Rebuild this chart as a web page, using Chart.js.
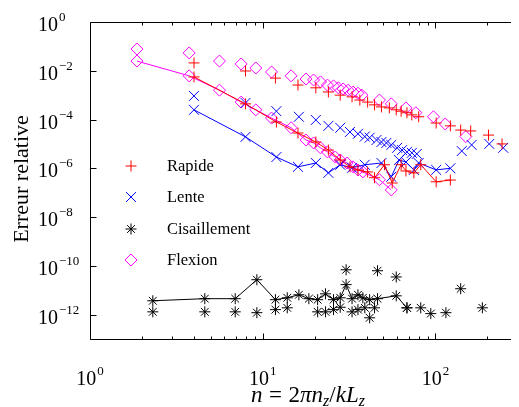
<!DOCTYPE html>
<html>
<head>
<meta charset="utf-8">
<script src="https://cdn.jsdelivr.net/npm/chart.js@4.4.1/dist/chart.umd.min.js"></script>
<style>
  html, body { margin: 0; padding: 0; background: #fff; }
  canvas { display: block; }
</style>
</head>
<body>
<canvas id="chart" width="519" height="407"></canvas>
<script>
// Rapide (red +): upper set markers only, lower set joined by a line
const rapideX1 = [4.0, 7.95, 11.85, 16.0, 20.3, 24.0, 28.1, 32.9, 36.5, 40.5, 44.4, 48.7, 54.1, 59.3, 63.3, 68.4, 73.0, 80.0, 101, 122, 140, 160, 203, 243];
const rapideY1 = [2.1e-2, 9.8e-3, 5.0e-3, 2.6e-3, 2.0e-3, 1.35e-3, 1.0e-3, 8.5e-4, 6.3e-4, 5.2e-4, 4.0e-4, 3.3e-4, 3.0e-4, 2.5e-4, 2.2e-4, 1.9e-4, 1.55e-4, 1.3e-4, 7.2e-5, 5.5e-5, 3.7e-5, 3.4e-5, 2.3e-5, 1.0e-5];
const rapideX2 = [4.0, 7.95, 12.0, 16.0, 20.3, 24.0, 28.1, 32.0, 35.6, 40.5, 44.4, 50.7, 56.2, 63.3, 67.5, 75.0, 82.2, 101, 122];
const rapideY2 = [5.6e-3, 4.4e-4, 7.9e-5, 2.8e-5, 1.2e-5, 5.6e-6, 2.2e-6, 1.15e-6, 8.5e-7, 7.1e-7, 4.1e-7, 1.4e-6, 2.5e-7, 1.4e-6, 7.8e-7, 6.5e-7, 1.4e-6, 2.8e-7, 3.3e-7];

// Lente (blue x)
const lenteX1 = [4.0, 7.95, 12.0, 16.2, 20.3, 24.0, 28.1, 32.0, 35.6, 39.0, 41.6, 45.6, 48.7, 52.0, 55.5, 60.0, 64.1, 68.4, 73.0, 78.0, 142, 162, 205, 247];
const lenteY1 = [9.3e-4, 4.8e-4, 2.2e-4, 1.3e-4, 9.6e-5, 5.5e-5, 4.6e-5, 3.1e-5, 2.6e-5, 2.0e-5, 1.8e-5, 1.45e-5, 1.2e-5, 1.1e-5, 9.1e-6, 6.9e-6, 5.6e-6, 4.7e-6, 4.3e-6, 3.9e-6, 5.1e-6, 9.1e-6, 1.0e-5, 6.9e-6];
const lenteX2 = [4.0, 7.95, 12.0, 16.0, 20.3, 24.0, 28.1, 32.9, 39.0, 48.7, 55.5, 61.6, 67.5, 75.0, 80.0, 101, 122];
const lenteY2 = [2.5e-4, 1.95e-5, 2.9e-6, 1.15e-6, 1.65e-6, 6.5e-7, 1.4e-6, 1.05e-6, 1.4e-6, 1.65e-6, 4.5e-7, 2.2e-6, 1.8e-6, 8.6e-7, 1.65e-6, 8.6e-7, 1.0e-6];

// Cisaillement (black *)
const cisailX1 = [2.31, 4.62, 6.93, 9.25, 11.85, 13.87, 16.2, 18.5, 20.8, 23.1, 25.7, 28.1, 30.4, 32.9, 35.6, 38.0, 41.6, 46.2, 59.3, 68.4];
const cisailY1 = [3.7e-12, 4.5e-12, 4.5e-12, 2.7e-11, 4.1e-12, 4.9e-12, 6.5e-12, 4.5e-12, 4.1e-12, 7.1e-12, 4.1e-12, 4.9e-12, 1.7e-11, 4.5e-12, 6.5e-12, 4.9e-12, 4.1e-12, 4.5e-12, 5.9e-12, 1.9e-12];
const cisailX2 = [2.31, 4.62, 6.93, 9.25, 11.85, 13.87, 20.8, 23.1, 25.7, 28.1, 30.4, 32.9, 35.6, 39.0, 41.6, 44.4, 46.2, 59.3, 68.4, 82.2, 94, 115, 140, 187];
const cisailY2 = [1.3e-12, 1.3e-12, 1.3e-12, 1.2e-12, 1.6e-12, 1.9e-12, 1.3e-12, 1.3e-12, 1.6e-12, 2.0e-12, 6.9e-11, 1.3e-12, 1.6e-12, 1.9e-12, 7.4e-13, 1.9e-12, 6.3e-11, 3.5e-11, 1.9e-12, 1.9e-12, 1.1e-12, 1.2e-12, 1.15e-11, 1.9e-12];

// Flexion (magenta diamonds)
const flexionX1 = [1.87, 3.75, 5.62, 7.5, 9.12, 11.25, 14.6, 17.8, 19.7, 21.6, 23.7, 25.7, 27.4, 29.2, 31.2, 33.3, 35.6, 37.5, 47.4, 55.5, 67.5, 77.0, 97.4, 114, 150];
const flexionY1 = [7.8e-2, 5.4e-2, 2.5e-2, 1.9e-2, 1.3e-2, 8.9e-3, 6.2e-3, 4.6e-3, 4.2e-3, 3.5e-3, 2.6e-3, 2.4e-3, 2.0e-3, 1.8e-3, 1.6e-3, 1.35e-3, 1.2e-3, 1.0e-3, 6.3e-4, 4.4e-4, 3.0e-4, 1.9e-4, 1.3e-4, 6.6e-5, 2.0e-5];
const flexionX2 = [1.87, 3.75, 5.62, 7.5, 9.12, 11.25, 14.6, 17.8, 19.7, 21.6, 23.7, 26.3, 28.1, 30.8, 33.3, 35.6, 38.0, 47.4, 55.5];
const flexionY2 = [2.5e-2, 6.2e-3, 1.6e-3, 5.2e-4, 2.5e-4, 1.15e-4, 4.6e-5, 1.45e-5, 1.1e-5, 6.9e-6, 4.7e-6, 2.9e-6, 2.2e-6, 1.65e-6, 1.15e-6, 8.5e-7, 7.1e-7, 3.4e-7, 1.3e-7];

const legendLabels = ['Rapide', 'Lente', 'Cisaillement', 'Flexion'];
const xTickExps = [0, 1, 2];
const yTickExps = [0, -2, -4, -6, -8, -10, -12];

const SERIF = '"Liberation Serif", "Times New Roman", serif';
const NONE = 'rgba(0,0,0,0)';

const styles = [
    { color: '#ff0000', pointStyle: 'cross',    radius: 5.5 },
    { color: '#0000ff', pointStyle: 'crossRot', radius: 7 },
    { color: '#000000', pointStyle: 'star',     radius: 5.5 },
    { color: '#ff00ff', pointStyle: 'rectRot',  radius: 6 },
];

function pts(xs, ys) {
    return xs.map((x, i) => ({ x: x, y: ys[i] }));
}

function makeSet(xs, ys, s, line, order) {
    return {
        data: pts(xs, ys),
        showLine: line,
        borderColor: s.color,
        backgroundColor: NONE,
        borderWidth: 1,
        pointStyle: s.pointStyle,
        pointRadius: s.radius,
        pointHoverRadius: s.radius,
        pointBorderColor: s.color,
        pointBackgroundColor: NONE,
        pointBorderWidth: 1,
        order: order,
    };
}

// superscript powers of ten, drawn by hand
function drawPow(ctx, x, base, exp, align) {
    const expStr = exp < 0 ? '\u2212' + (-exp) : String(exp);
    ctx.font = '20px ' + SERIF;
    const w1 = ctx.measureText('10').width;
    ctx.font = '13px ' + SERIF;
    const w2 = ctx.measureText(expStr).width;
    let left = x;
    if (align === 'center') left = x - (w1 + w2 + 1) / 2;
    ctx.textAlign = 'left';
    ctx.textBaseline = 'alphabetic';
    ctx.font = '20px ' + SERIF;
    ctx.fillText('10', left, base);
    ctx.font = '13px ' + SERIF;
    ctx.fillText(expStr, left + w1 + 1, base - 10);
}

const decor = {
    id: 'decor',
    afterDraw(chart) {
        const ctx = chart.ctx;
        const a = chart.chartArea;
        const xs = chart.scales.x, ys = chart.scales.y;
        ctx.save();
        ctx.strokeStyle = '#000';
        ctx.fillStyle = '#000';
        ctx.lineWidth = 1;

        const L = Math.round(a.left) + 0.5, T = Math.round(a.top) + 0.5, B = Math.round(a.bottom) + 0.5;
        ctx.beginPath();
        ctx.moveTo(a.right, T); ctx.lineTo(L, T); ctx.lineTo(L, B); ctx.lineTo(a.right, B);
        ctx.stroke();

        // x ticks, top and bottom, inward
        ctx.beginPath();
        for (let e = 0; e <= 2; e++) {
            for (let m = 1; m <= 9; m++) {
                const v = m * Math.pow(10, e);
                if (v > xs.max) break;
                const px = Math.round(xs.getPixelForValue(v)) + 0.5;
                const len = m === 1 ? 6 : 3;
                ctx.moveTo(px, B); ctx.lineTo(px, B - len);
                ctx.moveTo(px, T); ctx.lineTo(px, T + len);
            }
        }
        // y ticks, left, inward
        yTickExps.forEach(e => {
            const py = Math.round(ys.getPixelForValue(Math.pow(10, e))) + 0.5;
            ctx.moveTo(L, py); ctx.lineTo(L + 6, py);
        });
        ctx.stroke();

        // tick labels
        yTickExps.forEach(e => {
            const py = ys.getPixelForValue(Math.pow(10, e));
            drawPow(ctx, 38, py + 9, e, 'left');
        });
        xTickExps.forEach(e => {
            const px = xs.getPixelForValue(Math.pow(10, e));
            drawPow(ctx, px, 385, e, 'center');
        });

        // y title
        ctx.save();
        ctx.translate(28, 179);
        ctx.rotate(-Math.PI / 2);
        ctx.font = '22px ' + SERIF;
        ctx.textAlign = 'center';
        ctx.textBaseline = 'alphabetic';
        ctx.fillText('Erreur relative', 0, 0);
        ctx.restore();

        // x title: n = 2πn_z/kL_z
        const parts = [
            { t: 'n', f: 'italic 23px ', dy: 0 },
            { t: '=', f: '23px ', dy: 0, pad: 6.5 },
            { t: '2', f: '23px ', dy: 0 },
            { t: '\u03c0n', f: 'italic 23px ', dy: 0 },
            { t: 'z', f: 'italic 16px ', dy: 4 },
            { t: '/', f: '23px ', dy: 0 },
            { t: 'kL', f: 'italic 23px ', dy: 0 },
            { t: 'z', f: 'italic 16px ', dy: 4 },
        ];
        let total = 0;
        parts.forEach(p => {
            ctx.font = p.f + SERIF;
            p.w = ctx.measureText(p.t).width + 2 * (p.pad || 0);
            total += p.w;
        });
        let cx = 308 - total / 2;
        ctx.textAlign = 'left';
        parts.forEach(p => {
            ctx.font = p.f + SERIF;
            ctx.fillText(p.t, cx + (p.pad || 0), 402 + p.dy);
            cx += p.w;
        });

        // legend
        const rows = [166, 197, 229, 260];
        legendLabels.forEach((lab, i) => {
            const s = styles[i];
            ctx.strokeStyle = s.color;
            ctx.fillStyle = NONE;
            Chart.helpers.drawPoint(ctx, { pointStyle: s.pointStyle, radius: s.radius, borderWidth: 1, rotation: 0 }, 131, rows[i]);
            ctx.fillStyle = '#000';
            ctx.font = '16.5px ' + SERIF;
            ctx.textAlign = 'left';
            ctx.textBaseline = 'middle';
            ctx.fillText(lab, 167, rows[i] + 1);
        });
        ctx.restore();
    }
};

new Chart(document.getElementById('chart'), {
    type: 'scatter',
    data: {
        datasets: [
            makeSet(rapideX2, rapideY2, styles[0], true, 0),
            makeSet(rapideX1, rapideY1, styles[0], false, 1),
            makeSet(lenteX2, lenteY2, styles[1], true, 2),
            makeSet(lenteX1, lenteY1, styles[1], false, 3),
            makeSet(cisailX1, cisailY1, styles[2], true, 4),
            makeSet(cisailX2, cisailY2, styles[2], false, 5),
            makeSet(flexionX2, flexionY2, styles[3], true, 6),
            makeSet(flexionX1, flexionY1, styles[3], false, 7),
        ]
    },
    options: {
        responsive: false,
        animation: false,
        devicePixelRatio: 1,
        layout: { padding: { top: 22, right: 0, left: 0, bottom: 0 } },
        plugins: { legend: { display: false }, tooltip: { enabled: false } },
        scales: {
            x: {
                type: 'logarithmic',
                min: 1,
                max: Math.pow(10, 429 / 176),
                ticks: { display: false },
                grid: { display: false },
                border: { display: false },
                afterFit: s => { s.height = 68; },
            },
            y: {
                type: 'logarithmic',
                min: 1e-13,
                max: 1,
                ticks: { display: false },
                grid: { display: false },
                border: { display: false },
                afterFit: s => { s.width = 90; },
            }
        }
    },
    plugins: [decor]
});
</script>
</body>
</html>
